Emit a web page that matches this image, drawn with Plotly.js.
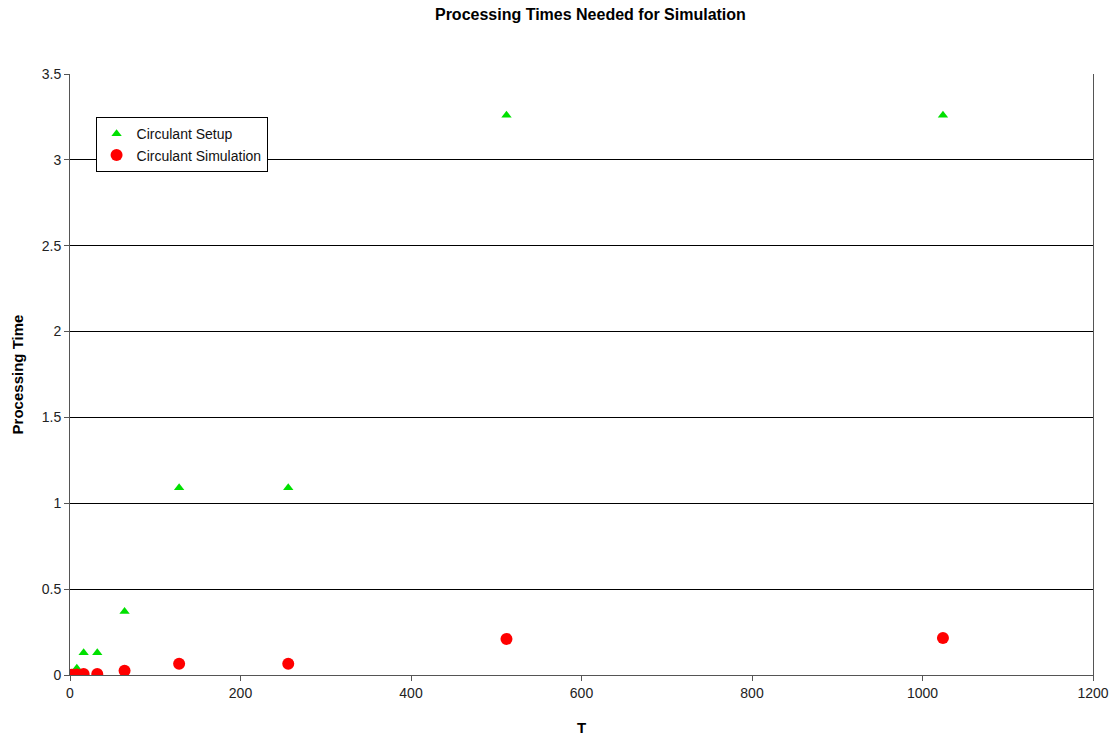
<!DOCTYPE html>
<html>
<head>
<meta charset="utf-8">
<script src="https://cdn.plot.ly/plotly-3.0.1.min.js"></script>
<style>html,body{margin:0;padding:0;background:#fff;}#chart{width:1114px;height:741px;}</style>
</head>
<body>
<div id="chart"></div>
<script>
const tValues = [2, 4, 8, 16, 32, 64, 128, 256, 512, 1024];
const setupTimes = [0.005, 0.01, 0.04, 0.13, 0.13, 0.37, 1.09, 1.09, 3.26, 3.26];
const simulationTimes = [0.001, 0.002, 0.003, 0.006, 0.006, 0.025, 0.065, 0.065, 0.21, 0.215];
const seriesNames = ["Circulant Setup", "Circulant Simulation"];

const font = "Liberation Sans, Arial, sans-serif";

const traces = [
  {
    x: tValues, y: setupTimes, name: seriesNames[0], type: "scatter", mode: "markers",
    marker: {symbol: "triangle-up", size: 9, color: "#00e000"}
  },
  {
    x: tValues, y: simulationTimes, name: seriesNames[1], type: "scatter", mode: "markers",
    marker: {symbol: "circle", size: 12, color: "#ff0000"}
  }
];

const layout = {
  width: 1114, height: 741,
  paper_bgcolor: "#fff", plot_bgcolor: "#fff",
  margin: {l: 70, r: 21, t: 74, b: 66},
  font: {family: font, size: 14, color: "#222"},
  title: {text: "<b>Processing Times Needed for Simulation</b>", x: 0.53, xanchor: "center", y: 0.98, yanchor: "middle", font: {family: font, size: 16, color: "#000"}},
  showlegend: true,
  legend: {
    x: 0.025, y: 0.928, xanchor: "left", yanchor: "top",
    bgcolor: "#fff", bordercolor: "#000", borderwidth: 1,
    font: {family: font, size: 14, color: "#111"},
    itemwidth: 30, tracegroupgap: 0
  },
  xaxis: {
    range: [0, 1200], dtick: 200, tick0: 0,
    showgrid: false, zeroline: false,
    showline: true, linecolor: "#555", linewidth: 1,
    ticks: "outside", ticklen: 5, tickcolor: "#555",
    tickfont: {family: font, size: 14, color: "#222"},
    title: {text: "<b>T</b>", font: {family: font, size: 15, color: "#000"}, standoff: 22}
  },
  yaxis: {
    range: [0, 3.5], dtick: 0.5, tick0: 0,
    showgrid: true, gridcolor: "#000", gridwidth: 1,
    zeroline: false,
    showline: true, linecolor: "#555", linewidth: 1, mirror: true,
    ticks: "outside", ticklen: 5, tickcolor: "#555",
    tickfont: {family: font, size: 14, color: "#222"},
    title: {text: "<b>Processing Time</b>", font: {family: font, size: 15, color: "#000"}, standoff: 14}
  }
};

Plotly.newPlot("chart", traces, layout, {displayModeBar: false, staticPlot: true});
</script>
</body>
</html>
